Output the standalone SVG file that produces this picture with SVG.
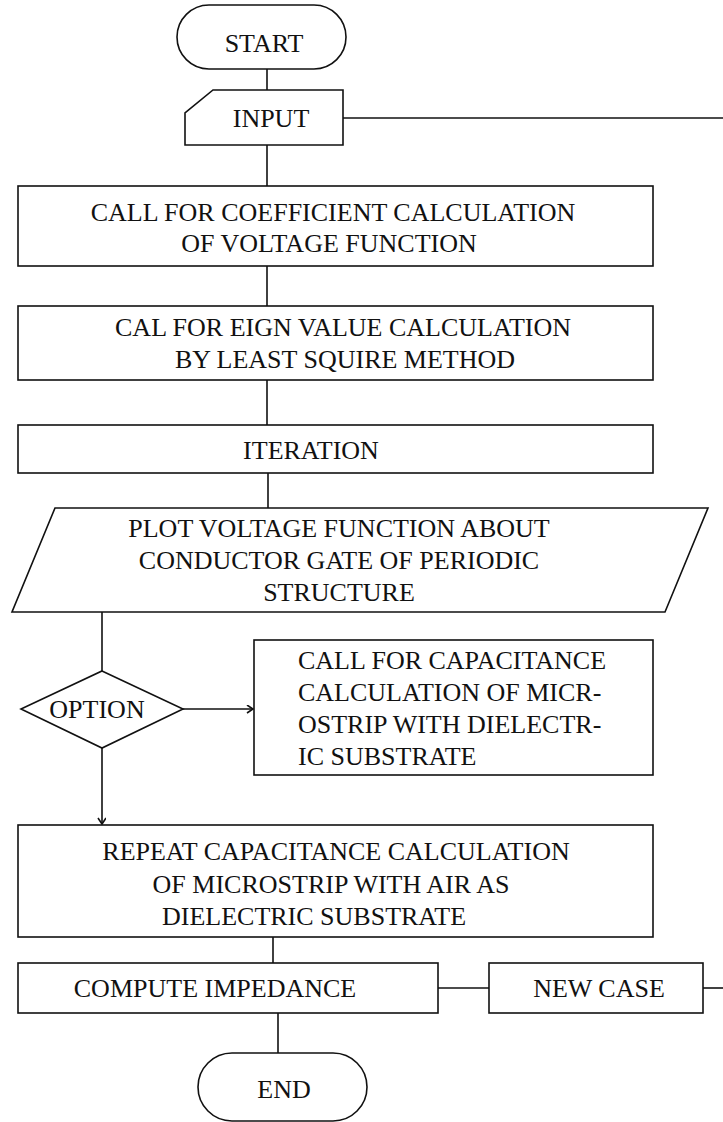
<svg xmlns="http://www.w3.org/2000/svg" width="723" height="1122" viewBox="0 0 723 1122">
<style>
.s{fill:#fff;stroke:#111;stroke-width:1.6}
.c{fill:none;stroke:#111;stroke-width:1.6}
text{font-family:"Liberation Serif","Times New Roman",serif;font-size:26px;fill:#111}
.m{text-anchor:middle}
</style>
<defs>
<marker id="ah" markerWidth="10" markerHeight="10" refX="7" refY="4" orient="auto" markerUnits="userSpaceOnUse">
<path d="M1,0 L7,4 L1,8" fill="none" stroke="#111" stroke-width="1.6"/>
</marker>
</defs>
<rect width="723" height="1122" fill="#fff"/>
<g id="connectors">
<line class="c" x1="267" y1="69" x2="267" y2="90"/>
<line class="c" x1="343" y1="118" x2="723" y2="118"/>
<line class="c" x1="267" y1="145" x2="267" y2="186"/>
<line class="c" x1="267" y1="266" x2="267" y2="306"/>
<line class="c" x1="267" y1="380" x2="267" y2="425"/>
<line class="c" x1="268" y1="473" x2="268" y2="508"/>
<line class="c" x1="102" y1="612" x2="102" y2="671"/>
<line class="c" x1="183" y1="709" x2="253" y2="709" marker-end="url(#ah)"/>
<line class="c" x1="102" y1="748" x2="102" y2="824" marker-end="url(#ah)"/>
<line class="c" x1="273" y1="937" x2="273" y2="963"/>
<line class="c" x1="438" y1="988" x2="489" y2="988"/>
<line class="c" x1="703" y1="988" x2="723" y2="988"/>
<line class="c" x1="278" y1="1013" x2="278" y2="1053"/>
</g>
<g id="start">
<rect class="s" x="177" y="5" width="169" height="64" rx="32"/>
<text class="m" x="264" y="52">START</text>
</g>
<g id="input">
<path class="s" d="M213,90 L343,90 L343,145 L185,145 L185,113 Z"/>
<text class="m" x="271" y="127">INPUT</text>
</g>
<g id="coeff">
<rect class="s" x="18" y="186" width="635" height="80"/>
<text class="m" x="333" y="221">CALL FOR COEFFICIENT CALCULATION</text>
<text class="m" x="329" y="252">OF VOLTAGE FUNCTION</text>
</g>
<g id="eigen">
<rect class="s" x="18" y="306" width="635" height="74"/>
<text class="m" x="343" y="336">CAL FOR EIGN VALUE CALCULATION</text>
<text class="m" x="345" y="368">BY LEAST SQUIRE METHOD</text>
</g>
<g id="iteration">
<rect class="s" x="18" y="425" width="635" height="48"/>
<text class="m" x="311" y="459">ITERATION</text>
</g>
<g id="plot">
<path class="s" d="M55,508 L708,508 L665,612 L12,612 Z"/>
<text class="m" x="339" y="537">PLOT VOLTAGE FUNCTION ABOUT</text>
<text class="m" x="339" y="569">CONDUCTOR GATE OF PERIODIC</text>
<text class="m" x="339" y="601">STRUCTURE</text>
</g>
<g id="option">
<path class="s" d="M102,671 L183,709 L102,748 L21,709 Z"/>
<text class="m" x="97" y="718">OPTION</text>
</g>
<g id="capacitance">
<rect class="s" x="254" y="640" width="399" height="135"/>
<text x="298" y="669">CALL FOR CAPACITANCE</text>
<text x="298" y="701">CALCULATION OF MICR-</text>
<text x="298" y="733">OSTRIP WITH DIELECTR-</text>
<text x="298" y="765">IC SUBSTRATE</text>
</g>
<g id="repeat">
<rect class="s" x="18" y="825" width="635" height="112"/>
<text class="m" x="336" y="860">REPEAT CAPACITANCE CALCULATION</text>
<text class="m" x="331" y="893">OF MICROSTRIP WITH AIR AS</text>
<text class="m" x="314" y="925">DIELECTRIC SUBSTRATE</text>
</g>
<g id="impedance">
<rect class="s" x="18" y="963" width="420" height="50"/>
<text class="m" x="215" y="997">COMPUTE IMPEDANCE</text>
</g>
<g id="newcase">
<rect class="s" x="489" y="963" width="214" height="50"/>
<text class="m" x="599" y="997">NEW CASE</text>
</g>
<g id="end">
<rect class="s" x="198" y="1053" width="169" height="68" rx="34"/>
<text class="m" x="284" y="1098">END</text>
</g>
</svg>
